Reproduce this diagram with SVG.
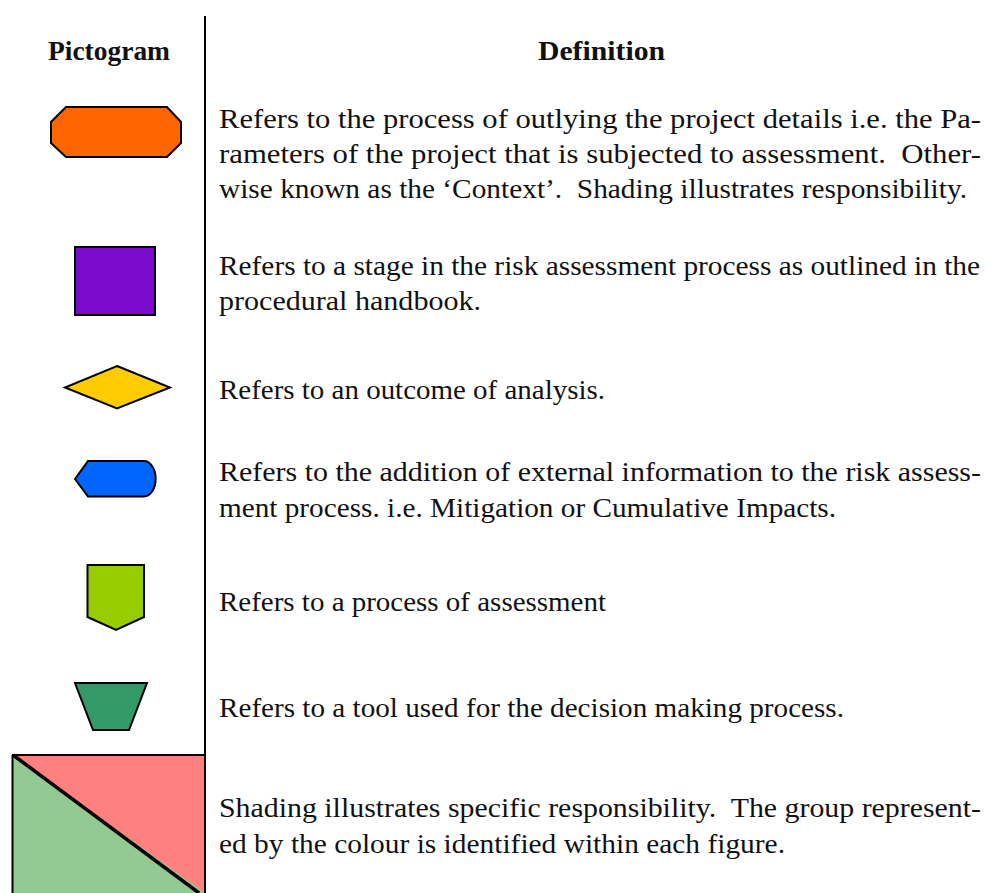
<svg xmlns="http://www.w3.org/2000/svg" width="986" height="893" viewBox="0 0 986 893">
<style>
text{font-family:"Liberation Serif","Times New Roman",serif;font-size:27px;fill:#111;white-space:pre}
.h{font-weight:bold}
.s{stroke:#000;stroke-width:2}
</style>
<rect width="986" height="893" fill="#fff"/>
<g id="p7"><rect x="12.500" y="755" width="192.500" height="138" fill="#ff8080"/><polygon points="12.500,755 205,893 12.500,893" fill="#93c993"/><line x1="12" y1="755" x2="205" y2="755" stroke="#000" stroke-width="2"/><line x1="12.500" y1="755" x2="12.500" y2="893" stroke="#000" stroke-width="2"/><line x1="13" y1="755" x2="199" y2="893" stroke="#000" stroke-width="3.500"/></g>
<g id="divider"><line x1="205" y1="16" x2="205" y2="893" stroke="#000" stroke-width="2"/></g>
<g id="headers"><text class="h" x="48" y="60" textLength="122" lengthAdjust="spacingAndGlyphs">Pictogram</text><text class="h" x="538" y="60" textLength="127" lengthAdjust="spacingAndGlyphs">Definition</text></g>
<g id="p1"><polygon class="s" fill="#ff6600" points="66,107 167,107 181,122 181,143 167,157 66,157 51,143 51,122"/></g>
<g id="p2"><rect class="s" fill="#7a0acc" x="75" y="247" width="80" height="68"/></g>
<g id="p3"><polygon class="s" fill="#ffcc00" points="117,366 170,387.500 117,408.500 65,387.500"/></g>
<g id="p4"><path class="s" fill="#0066ff" d="M88,461H144A11.500,17.500 0 0 1 144,496.500H88L75,479Z"/></g>
<g id="p5"><polygon class="s" fill="#99cc00" points="87.500,565 144,565 144,617 116,630 87.500,617"/></g>
<g id="p6"><polygon class="s" fill="#339966" points="75,683 147,683 129,730 93,730"/></g>
<g id="t1"><text x="219" y="128" textLength="762" lengthAdjust="spacingAndGlyphs">Refers to the process of outlying the project details i.e. the Pa-</text><text x="219" y="163" textLength="762" lengthAdjust="spacingAndGlyphs">rameters of the project that is subjected to assessment.  Other-</text><text x="219" y="198" textLength="748" lengthAdjust="spacingAndGlyphs">wise known as the ‘Context’.  Shading illustrates responsibility.</text></g>
<g id="t2"><text x="219" y="275" textLength="761" lengthAdjust="spacingAndGlyphs">Refers to a stage in the risk assessment process as outlined in the</text><text x="219" y="310" textLength="262" lengthAdjust="spacingAndGlyphs">procedural handbook.</text></g>
<g id="t3"><text x="219" y="399" textLength="386" lengthAdjust="spacingAndGlyphs">Refers to an outcome of analysis.</text></g>
<g id="t4"><text x="219" y="481" textLength="762" lengthAdjust="spacingAndGlyphs">Refers to the addition of external information to the risk assess-</text><text x="219" y="517" textLength="617" lengthAdjust="spacingAndGlyphs">ment process. i.e. Mitigation or Cumulative Impacts.</text></g>
<g id="t5"><text x="219" y="611" textLength="387" lengthAdjust="spacingAndGlyphs">Refers to a process of assessment</text></g>
<g id="t6"><text x="219" y="717" textLength="625" lengthAdjust="spacingAndGlyphs">Refers to a tool used for the decision making process.</text></g>
<g id="t7"><text x="219" y="817" textLength="762" lengthAdjust="spacingAndGlyphs">Shading illustrates specific responsibility.  The group represent-</text><text x="219" y="853" textLength="566" lengthAdjust="spacingAndGlyphs">ed by the colour is identified within each figure.</text></g>
</svg>
